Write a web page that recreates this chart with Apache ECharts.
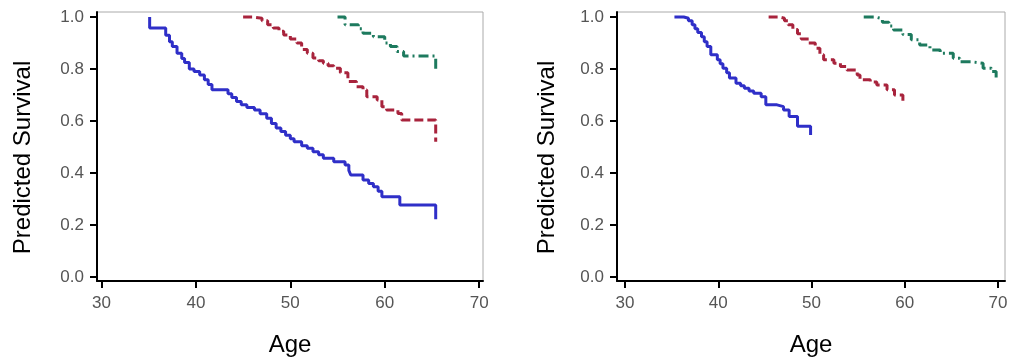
<!DOCTYPE html>
<html><head><meta charset="utf-8">
<script src="https://cdn.jsdelivr.net/npm/echarts@6/dist/echarts.min.js"></script>
<style>html,body{margin:0;padding:0;background:#fff}#c{width:1016px;height:362px}</style>
</head><body><div id="c"></div>
<script>
const xTicks = [30, 40, 50, 60, 70];
const yTicks = [0, 0.2, 0.4, 0.6, 0.8, 1.0];
const xTitle = 'Age';
const yTitle = 'Predicted Survival';

// Left panel
const leftBlue = [[35.1,1.0],[35.1,0.957],[36.8,0.93],[37.2,0.905],[37.5,0.886],[38.0,0.86],[38.5,0.84],[38.8,0.825],[39.3,0.80],[39.8,0.79],[40.4,0.777],[40.9,0.758],[41.3,0.74],[41.7,0.72],[43.4,0.705],[43.8,0.69],[44.3,0.675],[44.8,0.662],[45.4,0.652],[46.2,0.642],[46.8,0.628],[47.5,0.61],[48.0,0.59],[48.5,0.573],[49.0,0.559],[49.5,0.545],[50.0,0.532],[50.4,0.52],[51.2,0.505],[51.8,0.495],[52.4,0.482],[53.0,0.47],[53.5,0.457],[54.6,0.443],[55.8,0.431],[56.2,0.41],[56.4,0.392],[57.7,0.373],[58.3,0.36],[58.8,0.347],[59.3,0.33],[59.7,0.309],[61.6,0.277],[65.4,0.222]];
const leftRed = [[45.0,1.0],[46.0,0.995],[47.0,0.985],[47.6,0.97],[48.2,0.957],[48.8,0.945],[49.3,0.931],[50.0,0.915],[50.7,0.9],[51.2,0.875],[51.8,0.86],[52.4,0.842],[53.0,0.832],[53.5,0.822],[54.0,0.812],[54.6,0.803],[55.3,0.785],[56.1,0.752],[57.0,0.732],[57.7,0.719],[58.1,0.693],[59.2,0.681],[59.7,0.655],[60.2,0.642],[61.4,0.629],[61.8,0.604],[65.4,0.52]];
const leftGreen = [[55.0,1.0],[55.8,0.97],[57.2,0.955],[57.7,0.937],[58.8,0.924],[60.0,0.9],[60.6,0.886],[61.3,0.867],[62.0,0.85],[65.4,0.79]];

// Right panel
const rightBlue = [[35.3,1.0],[36.3,0.995],[36.8,0.985],[37.2,0.97],[37.5,0.955],[37.8,0.94],[38.2,0.924],[38.5,0.905],[38.8,0.886],[39.2,0.855],[39.9,0.835],[40.2,0.82],[40.5,0.803],[40.9,0.785],[41.2,0.765],[41.9,0.745],[42.4,0.735],[42.8,0.726],[43.3,0.715],[43.8,0.707],[44.6,0.693],[45.1,0.662],[46.3,0.655],[47.0,0.642],[47.6,0.617],[48.5,0.58],[49.9,0.546]];
const rightRed = [[45.4,1.0],[46.5,0.995],[47.1,0.985],[47.5,0.97],[48.0,0.952],[48.5,0.935],[48.9,0.915],[49.7,0.9],[50.4,0.88],[50.9,0.855],[51.3,0.835],[52.4,0.822],[53.1,0.809],[53.8,0.796],[54.9,0.777],[55.2,0.758],[56.3,0.75],[57.0,0.738],[58.1,0.72],[58.9,0.70],[59.8,0.662]];
const rightGreen = [[55.6,1.0],[56.8,0.993],[57.6,0.98],[58.3,0.965],[58.8,0.95],[59.8,0.932],[60.7,0.912],[61.6,0.892],[62.7,0.873],[63.8,0.86],[65.2,0.841],[65.9,0.828],[67.1,0.822],[68.4,0.803],[69.3,0.79],[69.8,0.76]];

const BLUE = '#2f2fc8', RED = '#a8233c', GREEN = '#1d7a5e';
const FONT = 'Liberation Sans, Arial, sans-serif';

function xAxisCfg(idx, min, max) {
  return {
    type: 'value', gridIndex: idx, min: min, max: max,
    name: xTitle, nameLocation: 'middle', nameGap: 52,
    nameTextStyle: { fontSize: 24, color: '#000', fontFamily: FONT },
    axisLine: { show: true, onZero: false, lineStyle: { color: '#000', width: 2 } },
    axisTick: { show: true, customValues: xTicks, length: 7, lineStyle: { color: '#000', width: 2 } },
    axisLabel: { customValues: xTicks, margin: 14, fontSize: 17, color: '#555', fontFamily: FONT },
    splitLine: { show: false }
  };
}
function yAxisCfg(idx, gap) {
  return {
    type: 'value', gridIndex: idx, min: -0.0154, max: 1.019,
    name: yTitle, nameLocation: 'middle', nameGap: gap,
    nameTextStyle: { fontSize: 24, color: '#000', fontFamily: FONT, padding: [0, 22, 0, 0] },
    axisLine: { show: true, onZero: false, lineStyle: { color: '#000', width: 2 } },
    axisTick: { show: true, customValues: yTicks, length: 7, lineStyle: { color: '#000', width: 2 } },
    axisLabel: { customValues: yTicks, margin: 13, fontSize: 17, color: '#555', fontFamily: FONT,
      formatter: v => v.toFixed(1) },
    splitLine: { show: false }
  };
}
function ser(data, idx, color, type) {
  return { type: 'line', xAxisIndex: idx, yAxisIndex: idx, data: data, step: 'end',
    showSymbol: false, symbol: 'none', animation: false,
    lineStyle: { color: color, width: 3, type: type } };
}

const chart = echarts.init(document.getElementById('c'));
chart.setOption({
  backgroundColor: '#fff',
  animation: false,
  grid: [
    { left: 97, top: 12, width: 386, height: 269, show: true, borderColor: '#aaa', borderWidth: 1 },
    { left: 617, top: 12, width: 388, height: 269, show: true, borderColor: '#aaa', borderWidth: 1 }
  ],
  xAxis: [xAxisCfg(0, 29.523, 70.41), xAxisCfg(1, 29.14, 70.75)],
  yAxis: [yAxisCfg(0, 62), yAxisCfg(1, 58)],
  series: [
    ser(leftBlue, 0, BLUE, 'solid'),
    ser(leftRed, 0, RED, [9, 4]),
    ser(leftGreen, 0, GREEN, [10, 4, 2, 4]),
    ser(rightBlue, 1, BLUE, 'solid'),
    ser(rightRed, 1, RED, [9, 4]),
    ser(rightGreen, 1, GREEN, [10, 4, 2, 4])
  ]
});
</script></body></html>
